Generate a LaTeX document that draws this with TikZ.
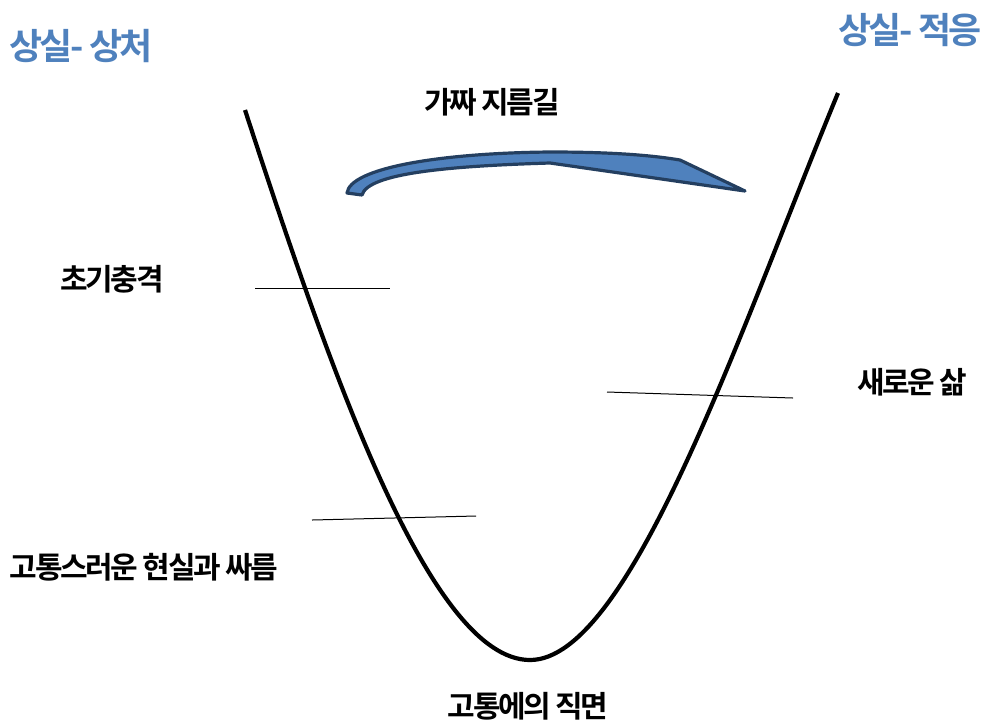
\documentclass[tikz,border=0pt]{standalone}
\usepackage{fontspec}
\setmainfont{Noto Sans CJK KR}[BoldFont={* Bold}]
\definecolor{titleblue}{HTML}{4F81BD}
\definecolor{swfill}{HTML}{4F81BD}
\definecolor{swline}{HTML}{243F60}
\begin{document}
\begin{tikzpicture}[x=1pt,y=-1pt,
  lbl/.style={font=\fontsize{30}{34}\selectfont\bfseries\addfontfeatures{LetterSpace=-8}, inner sep=0pt, text=black},
  ttl/.style={font=\fontsize{36}{40}\selectfont\bfseries\addfontfeatures{LetterSpace=-7}, inner sep=0pt, text=titleblue},
  curve/.style={line width=4.2pt, black},
  tick/.style={line width=1pt, black}]
\useasboundingbox (0,0) rectangle (984,724);
% titles
\node[ttl] (t1) at (81,46) {상실- 상처};
\node[ttl] (t2) at (910,30) {상실- 적응};
% labels
\node[lbl] (short) at (492,102) {가짜 지름길};
\node[lbl] (shock) at (112,279) {초기충격};
\node[lbl] (newlife) at (912,382) {새로운 삶};
\node[lbl] (fight) at (144,567) {고통스러운 현실과 싸름};
\node[lbl] (face) at (528,706) {고통에의 직면};
% U curve
\coordinate (cl) at (245,110);
\coordinate (cb) at (530,660);
\coordinate (cr) at (838,93);
\draw[curve] (cl) .. controls (330,370) and (430,660) .. (cb)
             .. controls (630,660) and (740,330) .. (cr);
% tick lines
\coordinate (a1) at (255,288); \coordinate (a2) at (390,288);
\coordinate (b1) at (607,392); \coordinate (b2) at (793,398);
\coordinate (c1) at (312,520); \coordinate (c2) at (476,516);
\draw[tick] (a1) -- (a2);
\draw[tick] (b1) -- (b2);
\draw[tick] (c1) -- (c2);
% swoosh
\draw[line width=3.2pt, draw=swline, fill=swfill, line join=round]
  (347,193) .. controls (350,168) and (440,153) .. (550,152)
  .. controls (610,152) and (650,155) .. (680,160)
  -- (745,191) -- (550,163)
  .. controls (450,166) and (368,173) .. (362,195) -- cycle;
\end{tikzpicture}
\end{document}
